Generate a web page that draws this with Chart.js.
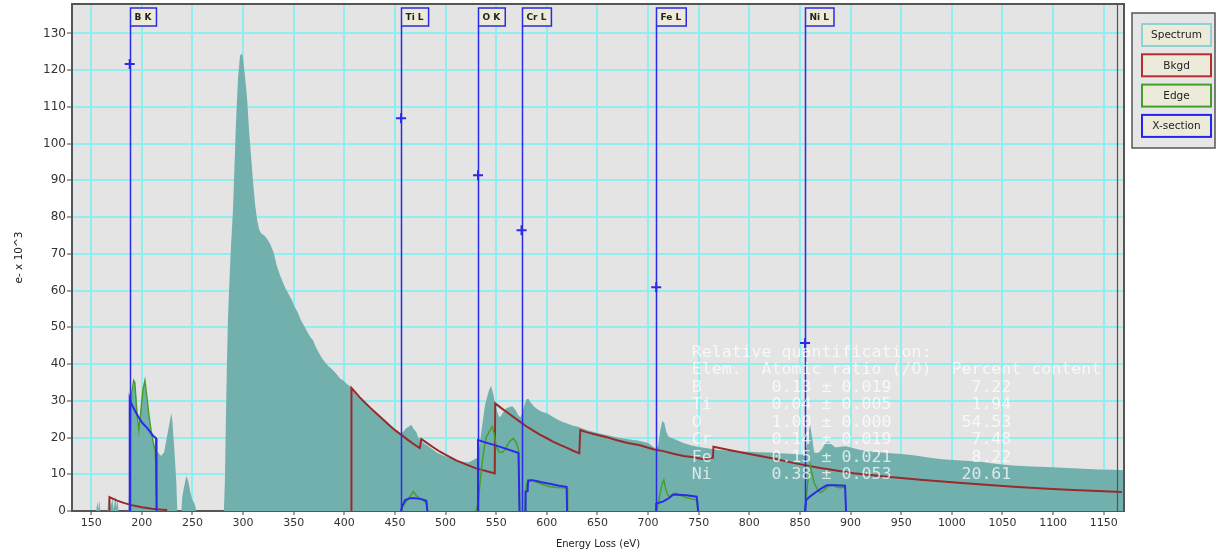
<!DOCTYPE html>
<html>
<head>
<meta charset="utf-8">
<script src="https://cdn.jsdelivr.net/npm/chart.js@4.4.1/dist/chart.umd.min.js"></script>
<style>
  html, body { margin: 0; padding: 0; background: #fff; }
</style>
</head>
<body>
<canvas id="eels" width="1218" height="553"></canvas>
<script>
// axis ticks
const xTicks = [150, 200, 250, 300, 350, 400, 450, 500, 550, 600, 650, 700, 750, 800, 850, 900, 950, 1000, 1050, 1100, 1150];
const yTicks = [0, 10, 20, 30, 40, 50, 60, 70, 80, 90, 100, 110, 120, 130];

// measured spectrum (energy eV / counts e- x 10^3)
const specE = [131, 155, 156, 157, 158, 159, 166, 167, 168, 169, 171, 172, 174, 175, 176, 177, 187,
  188, 189, 191, 193, 195, 197, 199, 201, 203, 205, 207, 209, 211, 213, 216, 219, 222, 224, 226, 228, 229, 230, 232, 234, 235,
  239, 240, 242, 244, 246, 248, 250, 252, 254, 281,
  282, 283, 284, 285, 287, 288, 290, 291, 292, 293, 294, 295, 297, 299, 300, 302, 304, 306, 308, 310, 312, 314, 316, 318,
  321, 324, 327, 330, 333, 336, 339, 342, 345, 348, 351, 354, 357, 360, 363, 366, 369, 372, 375, 378, 381, 384, 387, 390,
  393, 396, 399, 402, 405, 408, 412, 416, 420, 425, 430, 435, 440, 445, 450, 455, 458, 461, 464, 466, 468, 471, 473, 475,
  478, 482, 487, 492, 497, 502, 507, 512, 517, 522, 527, 531, 533, 535, 537, 539, 541, 543, 545, 547, 549, 551, 553, 555,
  557, 560, 563, 566, 569, 572, 574, 576, 578, 580, 582, 584, 587, 590, 595, 600, 605, 610, 615, 620, 625, 630, 640, 650,
  660, 670, 680, 690, 700, 705, 708, 710, 712, 714, 716, 718, 720, 724, 728, 735, 742, 750, 760, 770, 780, 790, 800, 810,
  820, 830, 840, 850, 855, 857, 859, 860, 862, 864, 866, 869, 872, 875, 878, 881, 885, 890, 895, 900, 910, 920, 930, 940,
  950, 962, 975, 990, 1005, 1028, 1045, 1060, 1080, 1094, 1110, 1130, 1145, 1160, 1170];
const specV = [0, 0, 2.5, 0.5, 3, 0, 0, 3, 4, 1, 3.5, 0.5, 4, 1, 3, 0, 0,
  18, 28, 33, 35, 30, 22, 28, 33, 35, 30, 26, 22, 19, 17, 16, 15, 16, 19, 22, 25, 26.6, 25, 17, 8, 0,
  0, 4, 7, 9.5, 8, 5, 3, 2, 0, 0,
  8, 25, 40, 52, 66, 72, 82, 90, 98, 106, 112, 118, 124, 124.5, 123, 118, 112, 103, 96, 89, 83, 79, 76.5, 75.5,
  75, 74, 72.5, 70.5, 67, 64.5, 62.5, 60.5, 59, 57.5, 55.5, 54, 52, 50.5, 49, 47.5, 46.5, 44.5, 43, 41.5, 40.5, 39.5, 38.8, 38,
  37, 36, 35.5, 34.7, 34, 33, 31.5, 30.5, 29.5, 28, 27, 25.5, 24.5, 23.2, 22, 21, 21.5, 22.5, 23, 23.5, 22.5, 21.5, 20, 19.5,
  18.5, 17.8, 16.8, 15.8, 15.2, 14.6, 14.2, 13.6, 13.4, 13.2, 13.8, 14.5, 17, 21, 25, 29, 31, 33, 34, 32, 29, 27, 25.5, 26,
  27, 28, 28.3, 28.5, 27.5, 26, 25.5, 27, 29, 30.5, 30.5, 29.5, 28.5, 27.8, 27, 26.6, 25.8, 25, 24.3, 23.8, 23.3, 23, 22, 21.2,
  20.6, 20, 19.5, 19.2, 18.5, 17.5, 16.8, 18, 22, 24.5, 24, 21.5, 20.3, 19.8, 19.3, 18.5, 17.9, 17.4, 17, 16.6, 16.4, 16.2, 16.1, 16,
  15.9, 15.7, 15.6, 15.4, 15.4, 18, 22, 23.4, 20, 16, 15.8, 16, 17, 18.5, 19, 18.2, 17.3, 17.5, 17.6, 17.3, 16.6, 16.2, 15.9, 15.7,
  15.5, 15.2, 14.6, 14.1, 13.8, 13.4, 12.8, 12.4, 12.1, 12, 11.8, 11.5, 11.3, 11.2, 11.1];

// background fits, one segment per fit window
const bkgdE = [
  [168, 168, 175, 182, 190, 200, 210, 220, 225],
  [407, 407, 415, 420, 426, 432, 438, 445, 450, 456, 462, 468, 474.5, 476, 480, 487, 494, 502, 511, 520, 530, 540, 548.5,
   549, 555, 560, 567, 573, 580, 587, 593, 600, 606, 613, 620, 626, 632, 633, 640, 650, 659, 670, 680, 692, 705, 715, 725,
   735, 745, 755, 764, 764.5, 780, 804, 825, 843, 870, 903, 936, 969, 1000, 1030, 1061, 1090, 1120, 1150, 1168]
];
const bkgdV = [
  [0, 3.8, 2.9, 2.2, 1.6, 1.0, 0.6, 0.35, 0.25],
  [0, 33.5, 31, 29.6, 28, 26.5, 25, 23.2, 22, 20.8, 19.5, 18.3, 17.1, 19.6, 18.8, 17.5, 16.2, 15, 13.7, 12.7, 11.6, 10.9, 10.2,
   29.3, 28, 27, 25.6, 24.4, 23, 21.8, 20.8, 19.8, 18.9, 18, 17.2, 16.4, 15.7, 22, 21.4, 20.7, 20.1, 19.2, 18.5, 17.9, 16.8, 16.3, 15.6,
   15, 14.6, 14.1, 14.5, 17.5, 16.6, 15.3, 14.2, 13.1, 11.7, 10.3, 9.3, 8.5, 7.8, 7.2, 6.6, 6.1, 5.7, 5.4, 5.2]
];

// background-subtracted edges
const edgeE = [
  [187.5, 188, 189, 190, 192, 193, 195, 197, 199, 201, 203, 205, 207, 209, 211, 213, 214, 215],
  [456, 458, 461, 465, 468, 471, 474, 478, 481, 482],
  [530, 532, 534, 536, 538, 540, 543, 546, 548, 550, 553, 556, 559, 563, 567, 570, 572, 573],
  [578, 579, 580, 582, 585, 588, 593, 598, 603, 610, 617, 620, 620.5],
  [708, 710, 712, 714, 715.5, 717, 719, 721, 724, 727, 732, 738, 743, 748, 749],
  [855, 856, 858, 860, 862, 864, 867, 870, 873, 876, 879, 882, 886, 890, 893, 895]
];
const edgeV = [
  [0, 14, 27, 32, 35.5, 35, 27, 22, 27, 33, 35.5, 31, 26, 22, 19, 16.5, 12, 0],
  [0, 1.5, 2.5, 4, 5.3, 4.2, 3.5, 3, 2, 0],
  [0, 2, 7.5, 13, 17, 20, 21.5, 23, 21, 17.5, 16, 16, 16.8, 18.9, 19.8, 18.5, 16.6, 0],
  [0, 5, 7.5, 8, 8.4, 8, 7.5, 7, 6.6, 6.4, 6.3, 6.2, 0],
  [0, 2, 5, 7.5, 8.4, 6.5, 4.5, 3.9, 4.5, 4.9, 4.3, 3.6, 3.3, 3, 0],
  [0, 3, 9, 12.5, 10, 7.6, 6, 5, 5.5, 6.3, 7, 7.2, 6.6, 6.3, 6.5, 6.2]
];

// model cross-sections
const xsecE = [
  [188, 188, 190, 194.5, 198, 201, 205, 208, 211, 214, 214.5],
  [456, 457, 460, 465, 470, 475, 481, 482],
  [532, 532, 540, 550, 560, 572, 573],
  [579, 579, 581, 581.5, 586, 595, 605, 612, 619.5, 620],
  [708, 708, 715, 720, 725, 738, 748, 749.5],
  [855, 856, 861, 866.6, 872, 876.5, 885, 894.5, 895.5]
];
const xsecV = [
  [0, 30.6, 29, 26.6, 25, 23.8, 22.7, 21.6, 20.5, 19.8, 0],
  [0, 1.2, 3, 3.5, 3.5, 3.3, 2.8, 0],
  [0, 19.3, 18.6, 17.8, 16.9, 15.8, 0],
  [0, 5.3, 5.4, 8.3, 8.4, 7.8, 7.3, 6.9, 6.6, 0],
  [0, 2, 2.6, 3.4, 4.5, 4.3, 3.9, 0],
  [0, 3, 4.2, 5.3, 6.3, 7, 7, 6.9, 0]
];

// edge onsets, labels and marker heights
const edgeOnsets = [188, 456, 532, 575, 708, 855];
const edgeNames = ['B K', 'Ti L', 'O K', 'Cr L', 'Fe L', 'Ni L'];
const edgeMarks = [121.7, 106.9, 91.4, 76.4, 60.9, 45.7];

// quantification table
const quantTitle = 'Relative quantification:';
const quantHead = ['Elem.', 'Atomic ratio (/O)', 'Percent content'];
const quantElem = ['B', 'Ti', 'O', 'Cr', 'Fe', 'Ni'];
const quantRatio = ['0.13', '0.04', '1.00', '0.14', '0.15', '0.38'];
const quantErr = ['0.019', '0.005', '0.000', '0.019', '0.021', '0.053'];
const quantPct = ['7.22', '1.94', '54.53', '7.48', '8.22', '20.61'];

const legendNames = ['Spectrum', 'Bkgd', 'Edge', 'X-section'];
const legendColors = ['#8fd2d2', '#b23030', '#42a024', '#2424ee'];

const blue = '#2a2ae8';
const sans = "'DejaVu Sans', Verdana, sans-serif";

function toPoints(es, vs) {
  const pts = [];
  es.forEach((seg, k) => {
    if (k > 0) pts.push({ x: seg[0], y: null });
    seg.forEach((e, i) => pts.push({ x: e, y: vs[k][i] }));
  });
  return pts;
}

function pad(s, n, right) {
  while (s.length < n) s = right ? ' ' + s : s + ' ';
  return s;
}

const eelsDecor = {
  id: 'eelsDecor',
  beforeDraw(chart) {
    const { ctx, chartArea: a } = chart;
    ctx.save();
    ctx.fillStyle = '#e4e4e4';
    ctx.fillRect(a.left, a.top, a.right - a.left, a.bottom - a.top);
    ctx.restore();
  },
  afterDatasetsDraw(chart) {
    const { ctx, chartArea: a } = chart;
    const xs = chart.scales.x;
    ctx.save();
    // edge onset lines + label boxes
    ctx.font = 'bold 9px ' + sans;
    edgeOnsets.forEach((e, i) => {
      const x = Math.round(xs.getPixelForValue(e)) + 0.5;
      ctx.strokeStyle = blue;
      ctx.lineWidth = 1.5;
      ctx.beginPath();
      ctx.moveTo(x, a.bottom);
      ctx.lineTo(x, a.top + 22);
      ctx.stroke();
      const w = ctx.measureText(edgeNames[i]).width + 9;
      ctx.fillStyle = '#ecead8';
      ctx.fillRect(x, a.top + 4, w, 18);
      ctx.strokeRect(x, a.top + 4, w, 18);
      ctx.fillStyle = '#222';
      ctx.textBaseline = 'middle';
      ctx.fillText(edgeNames[i], x + 4, a.top + 13.5);
    });
    ctx.restore();
  },
  afterDraw(chart) {
    const { ctx, chartArea: a } = chart;
    const xs = chart.scales.x, ys = chart.scales.y;
    ctx.save();
    // frame
    ctx.strokeStyle = '#555';
    ctx.lineWidth = 2;
    ctx.beginPath();
    ctx.moveTo(a.left, a.top);
    ctx.lineTo(a.right, a.top);
    ctx.lineTo(a.right, a.bottom);
    ctx.stroke();
    ctx.lineWidth = 1.2;
    ctx.beginPath();
    ctx.moveTo(a.right - 6.5, a.top);
    ctx.lineTo(a.right - 6.5, a.bottom);
    ctx.stroke();

    // quantification text
    ctx.font = '16.6px "DejaVu Sans Mono", monospace';
    ctx.fillStyle = 'rgba(255,255,255,0.72)';
    ctx.textBaseline = 'middle';
    const lines = [quantTitle, quantHead[0] + '  ' + quantHead[1] + '  ' + quantHead[2]];
    quantElem.forEach((el, i) => {
      lines.push(pad(el, 8) + quantRatio[i] + ' \u00b1 ' + quantErr[i] + pad(quantPct[i], 12, true));
    });
    const qx = xs.getPixelForValue(743);
    const qy = ys.getPixelForValue(43.1);
    lines.forEach((t, i) => ctx.fillText(t, qx, qy + i * 17.5));

    // legend
    const lx = a.right + 8, ly = a.top + 9;
    ctx.fillStyle = '#e6e6e6';
    ctx.fillRect(lx, ly, 83, 135);
    ctx.strokeStyle = '#555';
    ctx.lineWidth = 1.5;
    ctx.strokeRect(lx, ly, 83, 135);
    ctx.font = '10.5px ' + sans;
    ctx.textAlign = 'center';
    legendNames.forEach((n, i) => {
      const by = ly + 11 + i * 30.3;
      ctx.fillStyle = '#ecead9';
      ctx.fillRect(lx + 10, by, 69, 22);
      ctx.strokeStyle = legendColors[i];
      ctx.lineWidth = 2;
      ctx.strokeRect(lx + 10, by, 69, 22);
      ctx.fillStyle = '#222';
      ctx.fillText(n, lx + 44.5, by + 11.5);
    });
    ctx.restore();
  }
};

const ctx = document.getElementById('eels').getContext('2d');
new Chart(ctx, {
  type: 'scatter',
  data: {
    datasets: [
      {
        label: legendNames[0], type: 'line', data: toPoints([specE], [specV]),
        borderWidth: 0, backgroundColor: '#72b0ae', fill: 'origin',
        pointRadius: 0, tension: 0, order: 4
      },
      {
        label: legendNames[1], type: 'line', data: toPoints(bkgdE, bkgdV),
        borderColor: '#992a2a', borderWidth: 2, fill: false,
        pointRadius: 0, spanGaps: false, order: 3
      },
      {
        label: legendNames[2], type: 'line', data: toPoints(edgeE, edgeV),
        borderColor: '#45a02a', borderWidth: 1.5, fill: false,
        pointRadius: 0, spanGaps: false, order: 2
      },
      {
        label: legendNames[3], type: 'line', data: toPoints(xsecE, xsecV),
        borderColor: blue, borderWidth: 2, fill: false,
        pointRadius: 0, spanGaps: false, order: 1
      },
      {
        label: 'onset', type: 'scatter',
        data: edgeOnsets.map((e, i) => ({ x: e, y: edgeMarks[i] })),
        pointStyle: 'cross', pointRadius: 5, borderColor: blue, borderWidth: 2, order: 0
      }
    ]
  },
  options: {
    responsive: false,
    animation: false,
    events: [],
    layout: { autoPadding: false, padding: { left: 0, right: 94, top: 4, bottom: 0 } },
    plugins: { legend: { display: false }, tooltip: { enabled: false } },
    scales: {
      x: {
        type: 'linear', min: 131, max: 1170,
        afterBuildTicks: s => { s.ticks = xTicks.map(v => ({ value: v })); },
        afterFit: s => { s.height = 42; s.paddingLeft = 0; s.paddingRight = 0; },
        ticks: { font: { family: sans, size: 11 }, color: '#333', padding: 2, maxRotation: 0, autoSkip: false, callback: v => String(v) },
        grid: { color: '#90eeee', lineWidth: 2, tickColor: '#444', tickLength: 4, tickWidth: 1 },
        border: { color: '#555', width: 2 },
        title: { display: true, text: 'Energy Loss (eV)', font: { family: sans, size: 10 }, color: '#222', padding: { top: 4, bottom: 3 } }
      },
      y: {
        type: 'linear', min: 0, max: 138,
        afterBuildTicks: s => { s.ticks = yTicks.map(v => ({ value: v })); },
        afterFit: s => { s.width = 72; s.paddingTop = 0; s.paddingBottom = 0; },
        ticks: { font: { family: sans, size: 12 }, color: '#333', padding: 1, autoSkip: false, callback: v => String(v) },
        grid: { color: '#90eeee', lineWidth: 2, tickColor: '#444', tickLength: 5, tickWidth: 1 },
        border: { color: '#555', width: 2 },
        title: { display: true, text: 'e- x 10^3', font: { family: sans, size: 10.5 }, color: '#222', padding: { top: 13, bottom: 0 } }
      }
    }
  },
  plugins: [eelsDecor]
});
</script>
</body>
</html>
